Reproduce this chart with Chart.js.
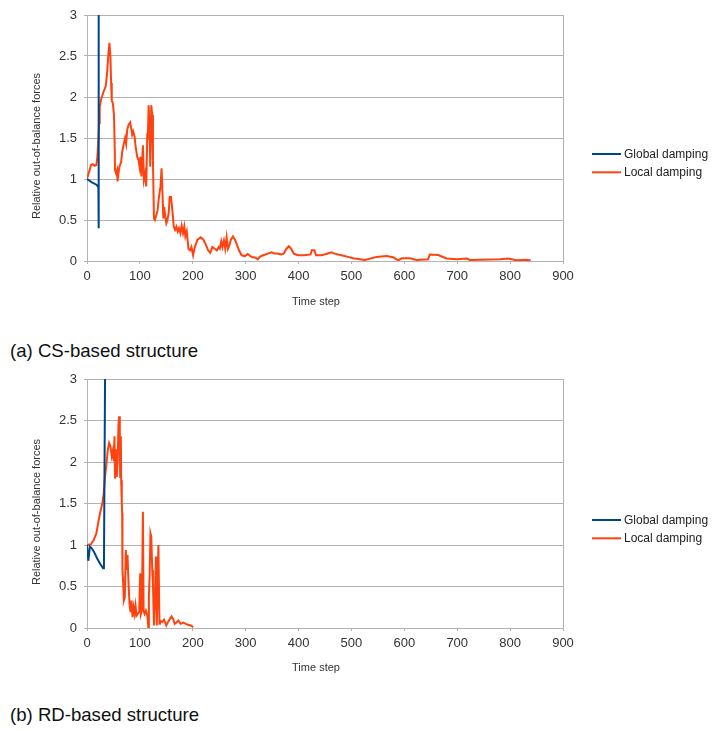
<!DOCTYPE html>
<html>
<head>
<meta charset="utf-8">
<script src="https://cdn.jsdelivr.net/npm/chart.js@4.4.1/dist/chart.umd.min.js"></script>
<style>
  body { margin: 0; background: #fff; width: 714px; height: 731px; position: relative; overflow: hidden; font-family: "Liberation Sans", Arial, sans-serif; }
  .wrap { position: absolute; left: 0; width: 714px; }
  .cap { position: absolute; left: 10px; font-size: 18.6px; color: #111; white-space: nowrap; }
</style>
</head>
<body>
<div class="wrap" style="top:0;height:326px"><canvas id="chartA" width="714" height="326"></canvas></div>
<div class="cap" style="top:340px">(a) CS-based structure</div>
<div class="wrap" style="top:364px;height:327px"><canvas id="chartB" width="714" height="327"></canvas></div>
<div class="cap" style="top:704px">(b) RD-based structure</div>

<script>
// series names and axis ticks
const seriesNames = ['Global damping', 'Local damping'];
const xTicks = [0, 100, 200, 300, 400, 500, 600, 700, 800, 900];
const yTicks = [0, 0.5, 1, 1.5, 2, 2.5, 3];
const xTitle = 'Time step';
const yTitle = 'Relative out-of-balance forces';

// (a) CS-based structure
const globalA_x = [0, 9.5, 17.7, 21.5, 22, 22.2];
const globalA_y = [1.0, 0.96, 0.93, 0.9, 0.4, 5];

const localA_x = [0, 5, 7.6, 11, 14.6, 17.7, 19.6, 21.5, 22.8, 24, 27, 31.6, 35.4, 38, 40.5, 42.4, 44.3, 45.6, 46.8, 49,
  51, 52.5, 53, 55, 57, 57.6, 59.5, 61.4, 64.6, 66.5, 69.6, 72, 74, 76, 78.5, 81.6, 83.5, 85.4, 87.3, 90,
  92, 95, 97.5, 99.4, 101, 103, 105.7, 107.6, 110, 112, 114, 115, 116.5, 118.4, 119.6, 121.5, 123.4, 124.7, 126.6, 128.5,
  131, 133.5, 136, 139, 141, 143, 144.3, 146, 148, 150, 152, 154.4, 156.3, 158.9, 161.4, 164, 166.5, 169, 171.5, 174,
  176.6, 179, 181.6, 184, 186, 188.6, 191.8, 195, 197.5, 200.6, 203.8, 209, 215, 220, 224.7, 229, 233, 237, 241.8, 245.6,
  248.7, 251, 253.8, 256, 258.9, 261.4, 264, 266.5, 269.6, 272, 276, 279.7, 283.5, 287.3, 292.4, 298.7, 303.8, 308.9, 313.9, 319,
  322.8, 326.6, 333, 341.8, 349.4, 354.4, 360.8, 367, 372, 377, 381.6, 386, 391, 398.7, 411, 422.8, 425, 430, 433, 443,
  452.5, 462, 468, 481, 493.7, 503, 525.5, 547.6, 566.5, 579, 588.5, 595, 610.6, 623, 645, 648, 664, 680, 699, 718,
  724, 781, 796.4, 812, 831, 839];
const localA_y = [1.0, 1.11, 1.17, 1.18, 1.16, 1.17, 1.27, 1.48, 1.68, 1.88, 1.98, 2.07, 2.13, 2.29, 2.53, 2.66, 2.49, 2.17, 1.96, 1.92,
  1.78, 1.35, 1.11, 1.07, 1.11, 0.97, 1.07, 1.15, 1.21, 1.33, 1.43, 1.50, 1.43, 1.60, 1.66, 1.69, 1.62, 1.54, 1.58, 1.52,
  1.39, 1.27, 1.23, 1.15, 1.27, 1.03, 1.41, 0.99, 1.07, 0.91, 1.56, 1.48, 1.90, 1.58, 1.15, 1.90, 1.78, 1.23, 0.52, 0.50,
  0.56, 0.62, 0.78, 0.91, 1.13, 0.78, 0.52, 0.66, 0.54, 0.46, 0.50, 0.58, 0.78, 0.78, 0.62, 0.42, 0.38, 0.42, 0.36, 0.40,
  0.34, 0.43, 0.34, 0.42, 0.30, 0.36, 0.15, 0.13, 0.17, 0.07, 0.17, 0.26, 0.29, 0.26, 0.20, 0.13, 0.10, 0.17, 0.15, 0.13,
  0.17, 0.15, 0.24, 0.17, 0.25, 0.15, 0.29, 0.15, 0.20, 0.26, 0.30, 0.26, 0.20, 0.13, 0.07, 0.06, 0.085, 0.06, 0.045, 0.04,
  0.02, 0.05, 0.07, 0.09, 0.105, 0.09, 0.09, 0.08, 0.09, 0.15, 0.18, 0.15, 0.09, 0.07, 0.07, 0.08, 0.13, 0.13, 0.07, 0.07,
  0.085, 0.105, 0.09, 0.07, 0.05, 0.033, 0.012, 0.05, 0.06, 0.045, 0.008, 0.033, 0.033, 0.012, 0.02, 0.08, 0.073, 0.03, 0.02, 0.03,
  0.012, 0.02, 0.03, 0.008, 0.016, 0.005];

// (b) RD-based structure
const globalB_x = [0, 2.5, 5.5, 9, 13, 19, 25, 30.5, 32, 34.5];
const globalB_y = [1.0, 0.81, 0.98, 0.96, 0.92, 0.84, 0.77, 0.72, 0.73, 3.4];

const localB_x = [0, 7.6, 12.7, 17.7, 21.5, 25.3, 29, 31.6, 34, 36.7, 39, 41.8, 44.3, 46.8, 48.7, 50.6, 52, 53, 55, 56.3,
  58, 59.5, 60.8, 62, 62.7, 64, 64.6, 65.8, 66.5, 67, 68.4, 69.6, 71.5, 73.4, 74.7, 76.6, 78.5, 80.4, 82.3, 84,
  86, 88, 90, 91.8, 93.7, 96, 98.7, 100.6, 102, 103.8, 105.7, 107, 108.9, 111.4, 114, 116, 117, 118.4, 120, 121.5,
  123.4, 124.7, 126.6, 128, 130.5, 132, 135, 137, 138, 142.4, 145.6, 150, 153, 157, 160, 162.7, 165.8, 169.6, 172.8, 177,
  182, 186.7, 191, 196, 201];
const localB_y = [1.0, 1.01, 1.06, 1.14, 1.28, 1.40, 1.50, 1.62, 1.82, 1.97, 2.13, 2.23, 2.19, 2.07, 2.13, 2.01, 2.31, 1.80, 2.15, 1.82,
  2.03, 2.45, 2.55, 2.31, 1.82, 2.31, 1.78, 1.50, 1.38, 0.70, 0.54, 0.33, 0.37, 0.94, 0.70, 0.88, 0.54, 0.29, 0.19, 0.33,
  0.13, 0.25, 0.17, 0.27, 0.15, 0.17, 0.19, 0.66, 0.17, 0.21, 1.40, 0.21, 0.17, 0.21, 0.15, 0.01, 0.37, 0.62, 1.14, 1.10,
  0.70, 0.54, 0.03, 0.29, 0.86, 0.03, 1.0, 0.05, 0.09, 0.07, 0.10, 0.03, 0.07, 0.11, 0.14, 0.11, 0.05, 0.07, 0.09, 0.05,
  0.065, 0.05, 0.04, 0.03, 0.01];

const FONT = '"Liberation Sans", Arial, sans-serif';
const GRID = '#b3b3b3';
const TEXT = '#333';
const COLORS = ['#004586', '#ff420e'];

const toPoints = (xs, ys) => xs.map((x, i) => ({ x: x, y: ys[i] }));

// legend at the right of the plot, like the office chart
const sideLegend = {
  id: 'sideLegend',
  afterDraw(chart, args, opts) {
    const ctx = chart.ctx;
    ctx.save();
    ctx.font = '12px ' + FONT;
    ctx.textBaseline = 'middle';
    chart.data.datasets.forEach((ds, i) => {
      const y = opts.y + i * 18.3;
      ctx.strokeStyle = ds.borderColor;
      ctx.lineWidth = 2;
      ctx.beginPath();
      ctx.moveTo(592, y);
      ctx.lineTo(621, y);
      ctx.stroke();
      ctx.fillStyle = '#222';
      ctx.fillText(ds.label, 624, y + 0.5);
    });
    ctx.restore();
  }
};

// axis titles, placed where the office chart puts them
const axisTitles = {
  id: 'axisTitles',
  afterDraw(chart, args, opts) {
    const ctx = chart.ctx;
    ctx.save();
    ctx.font = '11px ' + FONT;
    ctx.fillStyle = TEXT;
    ctx.textAlign = 'center';
    ctx.textBaseline = 'middle';
    ctx.fillText(xTitle, 316, opts.xTitleY);
    ctx.translate(37, opts.yTitleY);
    ctx.rotate(-Math.PI / 2);
    ctx.fillText(yTitle, 0, 0);
    ctx.restore();
  }
};

function buildChart(id, gx, gy, lx, ly, box) {
  return new Chart(document.getElementById(id), {
    type: 'line',
    data: {
      datasets: [
        { label: seriesNames[0], data: toPoints(gx, gy), borderColor: COLORS[0], borderWidth: 2, pointRadius: 0, tension: 0 },
        { label: seriesNames[1], data: toPoints(lx, ly), borderColor: COLORS[1], borderWidth: 2, pointRadius: 0, tension: 0 }
      ]
    },
    options: {
      responsive: false,
      animation: false,
      layout: { padding: { top: box.top, right: 151, bottom: 0, left: 0 } },
      plugins: {
        legend: { display: false },
        tooltip: { enabled: false },
        sideLegend: { y: box.legendY },
        axisTitles: { xTitleY: box.xTitleY, yTitleY: box.yTitleY }
      },
      scales: {
        x: {
          type: 'linear',
          min: 0,
          max: 900,
          afterBuildTicks: s => { s.ticks = xTicks.map(v => ({ value: v })); },
          afterFit: s => { s.height = box.xHeight; },
          ticks: { font: { family: FONT, size: 13 }, color: TEXT, padding: 5, maxRotation: 0, autoSkip: false },
          grid: {
            color: c => (c.tick && c.tick.value === 900) ? GRID : 'rgba(0,0,0,0)',
            tickColor: GRID,
            tickLength: 3
          },
          border: { color: GRID }
        },
        y: {
          min: 0,
          max: 3,
          afterBuildTicks: s => { s.ticks = yTicks.map(v => ({ value: v })); },
          afterFit: s => { s.width = 87; },
          ticks: { font: { family: FONT, size: 13 }, color: TEXT, padding: 7, callback: v => String(v) },
          grid: { color: GRID, tickLength: 3 },
          border: { color: GRID }
        }
      }
    },
    plugins: [sideLegend, axisTitles]
  });
}

buildChart('chartA', globalA_x, globalA_y, localA_x, localA_y,
  { top: 15, xHeight: 65, legendY: 154, xTitleY: 302, yTitleY: 146 });
buildChart('chartB', globalB_x, globalB_y, localB_x, localB_y,
  { top: 15, xHeight: 63, legendY: 156, xTitleY: 304, yTitleY: 148 });
</script>
</body>
</html>
